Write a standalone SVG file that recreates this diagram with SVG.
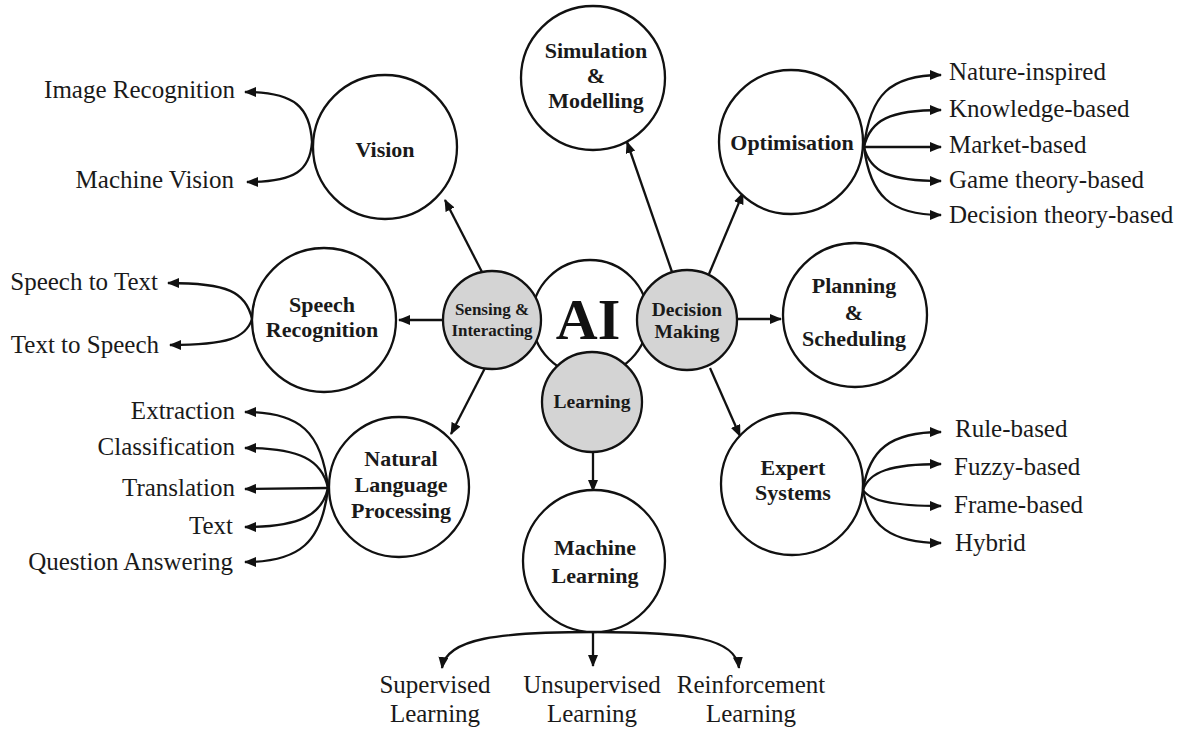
<svg xmlns="http://www.w3.org/2000/svg" width="1183" height="731" viewBox="0 0 1183 731">
<defs>
<marker id="ah" viewBox="0 0 12 10" refX="11" refY="5" markerWidth="12" markerHeight="10" markerUnits="userSpaceOnUse" orient="auto">
<path d="M0,0 L12,5 L0,10 z" fill="#111"/>
</marker>
</defs>
<style>
.node{fill:#fff;stroke:#111;stroke-width:2.3}
.core{fill:#d4d4d4;stroke:#111;stroke-width:2.3}
.nt{font-family:"Liberation Serif","Times New Roman",serif;font-weight:bold;font-size:22px;fill:#1a1a1a;text-anchor:middle}
.ct{font-family:"Liberation Serif","Times New Roman",serif;font-weight:bold;font-size:19.5px;fill:#1a1a1a;text-anchor:middle}
.st{font-size:17px}
.lb{font-family:"Liberation Serif","Times New Roman",serif;font-size:25px;fill:#1a1a1a}
.r{text-anchor:end}
.m{text-anchor:middle}
.c{fill:none;stroke:#111;stroke-width:2.3;marker-end:url(#ah)}
</style>
<rect width="1183" height="731" fill="#fff"/>

<g id="connectors">
<path class="c" d="M482,272 L445,200"/>
<path class="c" d="M443,320 L399,320"/>
<path class="c" d="M485,368 L451,434"/>
<path class="c" d="M672,272 L627,142"/>
<path class="c" d="M709,274 L743,193"/>
<path class="c" d="M737,319 L781,319"/>
<path class="c" d="M710,368 L740,436"/>
<path class="c" d="M593,452 L593,491"/>
<path class="c" d="M312,142 C310,108 296,92 245,92"/>
<path class="c" d="M312,142 C310,170 296,182 247,182"/>
<path class="c" d="M252,319 C246,292 228,283 168,283"/>
<path class="c" d="M252,319 C246,338 228,345 170,345"/>
<path class="c" d="M328,488 C322,432 300,412 245,412"/>
<path class="c" d="M328,488 C322,460 300,448 245,448"/>
<path class="c" d="M328,488 L245,489"/>
<path class="c" d="M328,488 C322,515 300,527 245,527"/>
<path class="c" d="M328,488 C322,542 300,562 245,562"/>
<path class="c" d="M864,147 C870,95 890,75 941,75"/>
<path class="c" d="M864,147 C870,120 890,110 941,110"/>
<path class="c" d="M864,147 L941,147"/>
<path class="c" d="M864,147 C870,172 890,181 941,181"/>
<path class="c" d="M864,147 C870,195 890,215 941,215"/>
<path class="c" d="M863,490 C869,450 890,432 941,432"/>
<path class="c" d="M863,490 C869,472 890,464 941,464"/>
<path class="c" d="M863,490 C869,500 890,506 941,506"/>
<path class="c" d="M863,490 C869,525 890,543 941,543"/>
<path class="c" d="M594,632 C500,632 446,638 442,668"/>
<path class="c" d="M593,632 L593,666"/>
<path class="c" d="M594,632 C690,632 736,638 739,668"/>
</g>

<g id="ai">
<circle class="node" cx="590" cy="318" r="58"/>
<text x="588" y="339" font-family="Liberation Serif, serif" font-weight="bold" font-size="58" fill="#111" text-anchor="middle">AI</text>
</g>
<g id="sensing">
<circle class="core" cx="492" cy="320" r="49"/>
<text class="ct st" x="492" y="315">Sensing &amp;</text>
<text class="ct st" x="492" y="336">Interacting</text>
</g>
<g id="decision">
<circle class="core" cx="687" cy="320" r="50"/>
<text class="ct" x="687" y="316">Decision</text>
<text class="ct" x="687" y="338">Making</text>
</g>
<g id="learning">
<circle class="core" cx="592" cy="402" r="50"/>
<text class="ct" x="592" y="408">Learning</text>
</g>

<g id="vision">
<circle class="node" cx="385" cy="147" r="72"/>
<text class="nt" x="385" y="157">Vision</text>
<text class="lb r" x="235" y="98">Image Recognition</text>
<text class="lb r" x="234" y="188">Machine Vision</text>
</g>
<g id="simulation">
<circle class="node" cx="593" cy="78" r="72"/>
<text class="nt" x="596" y="58">Simulation</text>
<text class="nt" x="596" y="83">&amp;</text>
<text class="nt" x="596" y="108">Modelling</text>
</g>
<g id="optimisation">
<circle class="node" cx="791" cy="142" r="72"/>
<text class="nt" x="792" y="150">Optimisation</text>
<text class="lb" x="949" y="80">Nature-inspired</text>
<text class="lb" x="949" y="117">Knowledge-based</text>
<text class="lb" x="949" y="153">Market-based</text>
<text class="lb" x="949" y="188">Game theory-based</text>
<text class="lb" x="949" y="223">Decision theory-based</text>
</g>
<g id="speech">
<circle class="node" cx="324" cy="320" r="72"/>
<text class="nt" x="322" y="312">Speech</text>
<text class="nt" x="322" y="337">Recognition</text>
<text class="lb r" x="158" y="290">Speech to Text</text>
<text class="lb r" x="159" y="353">Text to Speech</text>
</g>
<g id="planning">
<circle class="node" cx="855" cy="315" r="72"/>
<text class="nt" x="854" y="293">Planning</text>
<text class="nt" x="854" y="320">&amp;</text>
<text class="nt" x="854" y="346">Scheduling</text>
</g>
<g id="nlp">
<circle class="node" cx="399" cy="487" r="70"/>
<text class="nt" x="401" y="466">Natural</text>
<text class="nt" x="401" y="492">Language</text>
<text class="nt" x="401" y="518">Processing</text>
<text class="lb r" x="235" y="419">Extraction</text>
<text class="lb r" x="235" y="455">Classification</text>
<text class="lb r" x="235" y="496">Translation</text>
<text class="lb r" x="233" y="534">Text</text>
<text class="lb r" x="233" y="570">Question Answering</text>
</g>
<g id="expert">
<circle class="node" cx="792" cy="484" r="71"/>
<text class="nt" x="793" y="475">Expert</text>
<text class="nt" x="793" y="500">Systems</text>
<text class="lb" x="955" y="437">Rule-based</text>
<text class="lb" x="954" y="475">Fuzzy-based</text>
<text class="lb" x="954" y="513">Frame-based</text>
<text class="lb" x="955" y="551">Hybrid</text>
</g>
<g id="machine-learning">
<circle class="node" cx="594" cy="561" r="71"/>
<text class="nt" x="595" y="555">Machine</text>
<text class="nt" x="595" y="583">Learning</text>
<text class="lb m" x="435" y="693">Supervised</text>
<text class="lb m" x="435" y="722">Learning</text>
<text class="lb m" x="592" y="693">Unsupervised</text>
<text class="lb m" x="592" y="722">Learning</text>
<text class="lb m" x="751" y="693">Reinforcement</text>
<text class="lb m" x="751" y="722">Learning</text>
</g>
</svg>
